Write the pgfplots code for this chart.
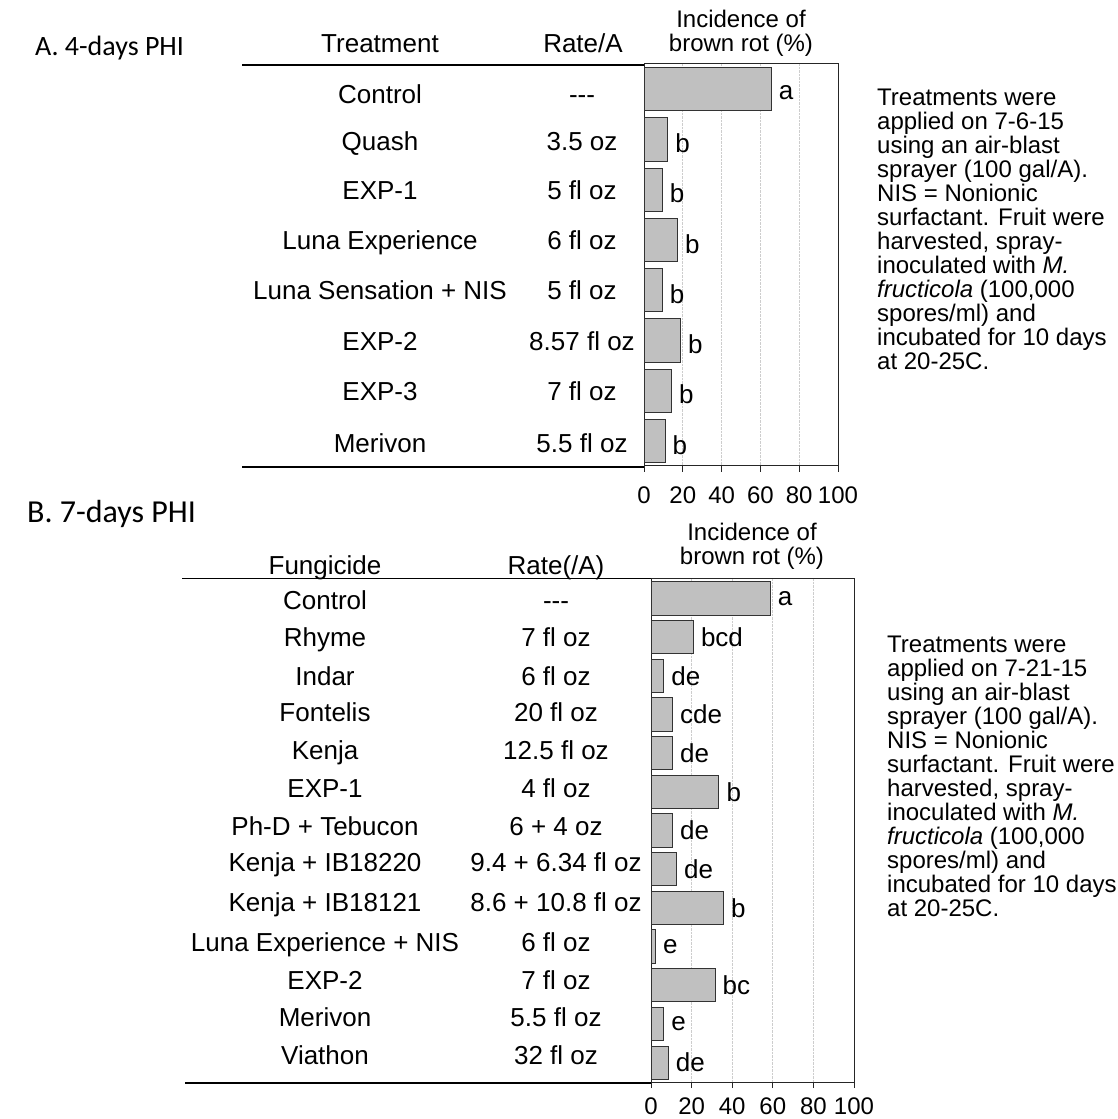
\documentclass[border=0pt]{standalone}
\usepackage{fontspec}
\setmainfont{Liberation Sans}
\newfontfamily\labelfont{Carlito}
\usepackage{pgfplots}
\usepackage{pgfplotstable}
\pgfplotsset{compat=1.18}

\definecolor{barfill}{RGB}{192,192,192}
\definecolor{gridgray}{RGB}{205,205,205}

% Incidence of brown rot (%), 4-day pre-harvest interval
\pgfplotstableread[col sep=comma]{
idx,val,grp
0,65.5,a
1,12.2,b
2,9.3,b
3,17.2,b
4,9.3,b
5,18.7,b
6,14.1,b
7,10.8,b
}\phiA

% Incidence of brown rot (%), 7-day pre-harvest interval
\pgfplotstableread[col sep=comma]{
idx,val,grp
0,58.7,a
1,20.8,bcd
2,6.2,de
3,10.5,cde
4,10.5,de
5,33.4,b
6,10.5,de
7,12.5,de
8,35.6,b
9,2.1,e
10,31.5,bc
11,6.2,e
12,8.4,de
}\phiB

\pgfplotsset{
  rotstyle/.style={
    xbar, scale only axis, clip=false,
    xmin=0, xmax=100, y dir=reverse,
    ytick=\empty, xtick={0,20,...,100},
    tick pos=left, tick align=outside, major tick length=6bp,
    xmajorgrids,
    major grid style={gridgray, densely dotted, line width=0.7bp},
    axis line style={black!85, line width=1bp},
    every tick/.style={black!85, line width=1bp},
    /pgf/number format/assume math mode=true,
    xticklabel style={font=\fontsize{24bp}{24bp}\selectfont, inner sep=0pt},
    bar width=0.86,
    nodes near coords, point meta=explicit symbolic,
    every node near coord/.append style={text=black,
      font=\fontsize{26bp}{26bp}\selectfont, anchor=west, xshift=4bp},
  },
}

\newcommand\rowfont{\fontsize{26bp}{26bp}\selectfont}
\newcommand\notefont{\fontsize{24bp}{24bp}\selectfont}
\newcommand\rowA[3]{%
  \node[anchor=base,font=\rowfont] at (380,{1119-#1}) {#2};
  \node[anchor=base,font=\rowfont] at (582,{1119-#1}) {#3};}
\newcommand\rowB[3]{%
  \node[anchor=base,font=\rowfont] at (325,{1119-#1}) {#2};
  \node[anchor=base,font=\rowfont] at (556,{1119-#1}) {#3};}
\newcommand\note[3]{%
  \node[anchor=base west,font=\notefont,inner sep=0pt] at (#1,{1119-#2}) {#3};}

\begin{document}
\begin{tikzpicture}[x=1bp,y=1bp]
\useasboundingbox (0,0) rectangle (1118,1119);

% ---------- A. 4-days PHI ----------
\node[anchor=base west,font=\labelfont\fontsize{28bp}{28bp}\selectfont,inner sep=0pt]
  at (35,{1119-56}) {A. 4-days PHI};
\node[anchor=base,font=\rowfont] at (380,{1119-53}) {Treatment};
\node[anchor=base,font=\rowfont] at (583,{1119-53}) {Rate/A};
\node[anchor=base,font=\notefont] at (741,{1119-28}) {Incidence of};
\node[anchor=base,font=\notefont] at (741,{1119-52}) {brown rot (\%)};
\draw[line width=1.2bp] (242,{1119-65}) -- (644,{1119-65});
\draw[line width=1.2bp] (242,{1119-467}) -- (644,{1119-467});

\rowA{103.3}{Control}{-{}-{}-}
\rowA{150.3}{Quash}{3.5 oz}
\rowA{199.3}{EXP-1}{5 fl oz}
\rowA{249.3}{Luna Experience}{6 fl oz}
\rowA{299.3}{Luna Sensation + NIS}{5 fl oz}
\rowA{350.3}{EXP-2}{8.57 fl oz}
\rowA{400.3}{EXP-3}{7 fl oz}
\rowA{452.3}{Merivon}{5.5 fl oz}

\begin{axis}[rotstyle, at={(644bp,653bp)}, anchor=south west,
  width=194bp, height=402bp, ymin=-0.5, ymax=7.5,
  xticklabel style={yshift=-15bp},
  every node near coord/.append style={yshift=-4bp}]
\addplot[fill=barfill, draw=black!80, line width=0.9bp]
  table[x=val, y=idx, meta=grp] {\phiA};
\end{axis}

\note{877}{106}{Treatments were}
\note{877}{130}{applied on 7-6-15}
\note{877}{154}{using an air-blast}
\note{877}{178}{sprayer (100 gal/A).}
\note{877}{202}{NIS = Nonionic}
\note{877}{226}{surfactant. Fruit were}
\note{877}{250}{harvested, spray-}
\note{877}{274}{inoculated with \textit{M.}}
\note{877}{298}{\textit{fructicola} (100,000}
\note{877}{322}{spores/ml) and}
\note{877}{346}{incubated for 10 days}
\note{877}{370}{at 20-25C.}

% ---------- B. 7-days PHI ----------
\node[anchor=base west,font=\labelfont\fontsize{32bp}{32bp}\selectfont,inner sep=0pt]
  at (27,{1119-523}) {B. 7-days PHI};
\node[anchor=base,font=\rowfont] at (325,{1119-575}) {Fungicide};
\node[anchor=base,font=\rowfont] at (556,{1119-575}) {Rate(/A)};
\node[anchor=base,font=\notefont] at (752,{1119-541}) {Incidence of};
\node[anchor=base,font=\notefont] at (752,{1119-565}) {brown rot (\%)};
\draw[line width=1.2bp] (182,{1119-578.5}) -- (651,{1119-578.5});
\draw[line width=1.2bp] (185,{1119-1083}) -- (651,{1119-1083});

\rowB{609.3}{Control}{-{}-{}-}
\rowB{646.3}{Rhyme}{7 fl oz}
\rowB{685.3}{Indar}{6 fl oz}
\rowB{721.3}{Fontelis}{20 fl oz}
\rowB{759.3}{Kenja}{12.5 fl oz}
\rowB{797.3}{EXP-1}{4 fl oz}
\rowB{835.3}{Ph-D + Tebucon}{6 + 4 oz}
\rowB{871.3}{Kenja + IB18220}{9.4 + 6.34 fl oz}
\rowB{911.3}{Kenja + IB18121}{8.6 + 10.8 fl oz}
\rowB{951.3}{Luna Experience + NIS}{6 fl oz}
\rowB{989.3}{EXP-2}{7 fl oz}
\rowB{1026.3}{Merivon}{5.5 fl oz}
\rowB{1064.3}{Viathon}{32 fl oz}

\begin{axis}[rotstyle, at={(651bp,37bp)}, anchor=south west,
  width=203bp, height=503bp, ymin=-0.5, ymax=12.5,
  xticklabel style={yshift=-10bp}]
\addplot[fill=barfill, draw=black!80, line width=0.9bp]
  table[x=val, y=idx, meta=grp] {\phiB};
\end{axis}

\note{887}{653}{Treatments were}
\note{887}{677}{applied on 7-21-15}
\note{887}{701}{using an air-blast}
\note{887}{725}{sprayer (100 gal/A).}
\note{887}{749}{NIS = Nonionic}
\note{887}{773}{surfactant. Fruit were}
\note{887}{797}{harvested, spray-}
\note{887}{821}{inoculated with \textit{M.}}
\note{887}{845}{\textit{fructicola} (100,000}
\note{887}{869}{spores/ml) and}
\note{887}{893}{incubated for 10 days}
\note{887}{917}{at 20-25C.}
\end{tikzpicture}
\end{document}
